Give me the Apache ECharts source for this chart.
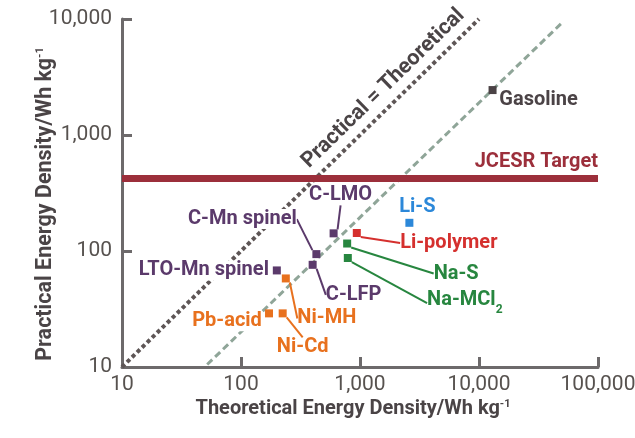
<!DOCTYPE html>
<html>
<head>
<meta charset="utf-8">
<script src="https://cdn.jsdelivr.net/npm/echarts@6/dist/echarts.min.js"></script>
<style>
  html, body { margin: 0; padding: 0; background: #fff; }
  #chart { width: 635px; height: 438px; }
</style>
</head>
<body>
<div id="chart"></div>
<script>
// values (Wh/kg)
const materials = ['Gasoline', 'C-LMO', 'Li-polymer', 'Li-S', 'Na-S', 'Na-MCl2', 'C-Mn spinel', 'C-LFP', 'LTO-Mn spinel', 'Ni-MH', 'Pb-acid', 'Ni-Cd']
const theoretical = [13000, 600, 940, 2600, 780, 790, 430, 400, 200, 238, 172, 224]
const practical = [2440, 142, 143, 175, 116, 87, 94, 76, 68, 58, 29, 29]
const family = ['Fuel', 'Li-ion', 'Li-polymer', 'Li-S', 'Sodium', 'Sodium', 'Li-ion', 'Li-ion', 'Li-ion', 'Aqueous', 'Aqueous', 'Aqueous']

const jcesrTarget = 425
// Practical = Theoretical guide, and the lower grey-green guide
const parityLine = [[10, 10], [10000, 10000]]
const lowerLine = [[52, 10.5], [50000, 9300]]

const FONT = "Roboto, 'Liberation Sans', sans-serif"

const familyColors = {
  Fuel: '#4b4346',
  'Li-ion': '#5b3a6b',
  'Li-polymer': '#d5302e',
  'Li-S': '#2c88d9',
  Sodium: '#27863f',
  Aqueous: '#e8711e',
}

// label centre relative to the marker (px)
const labelOffsets = {
  Gasoline: [46, 10],
  'C-LMO': [7, -38],
  'Li-polymer': [92, 10],
  'Li-S': [8, -16],
  'Na-S': [109, 30],
  'Na-MCl2': [117, 42],
  'C-Mn spinel': [-74, -35],
  'C-LFP': [41, 30],
  'LTO-Mn spinel': [-73, 0],
  'Ni-MH': [41, 40],
  'Pb-acid': [-42, 8],
  'Ni-Cd': [20, 34],
}
const withLeader = ['C-LMO', 'Li-polymer', 'Na-S', 'Na-MCl2', 'C-Mn spinel', 'C-LFP', 'Ni-MH', 'Ni-Cd']
const knockout = ['C-Mn spinel', 'LTO-Mn spinel', 'Pb-acid']

const chart = echarts.init(document.getElementById('chart'))

const points = materials.map((name, i) => {
  const color = familyColors[family[i]]
  return {
    name: name,
    value: [theoretical[i], practical[i]],
    itemStyle: { color: color, opacity: 1 },
    label: {
      color: color,
      backgroundColor: knockout.includes(name) ? '#fff' : 'transparent',
    },
    labelLine: {
      show: withLeader.includes(name),
      lineStyle: { color: color, width: 2, opacity: 1 },
    },
  }
})

const fmt = (v) => Math.round(v).toLocaleString('en-US')

const titleStyle = (size) => ({
  color: '#4a4446',
  fontSize: size,
  fontWeight: 'bold',
  fontFamily: FONT,
  rich: {
    sup: { fontSize: 11, fontWeight: 'bold', verticalAlign: 'top', color: '#4a4446', fontFamily: FONT },
  },
})

const option = {
  animation: false,
  backgroundColor: '#fff',
  textStyle: { fontFamily: FONT },
  grid: {
    left: 122,
    right: 37,
    top: 19,
    bottom: 71,
    outerBoundsMode: 'none',
  },
  xAxis: {
    type: 'log',
    logBase: 10,
    min: 10,
    max: 100000,
    name: 'Theoretical Energy Density/Wh kg{sup|-1}',
    nameLocation: 'middle',
    nameGap: 32,
    nameMoveOverlap: false,
    nameTextStyle: Object.assign(titleStyle(20), { padding: [0, 14, 0, 0] }),
    axisLine: { lineStyle: { color: '#6d6a6b', width: 3 } },
    axisTick: { inside: true, length: 10, lineStyle: { color: '#6d6a6b', width: 3 } },
    axisLabel: { color: '#57524f', fontSize: 21, fontFamily: FONT, margin: 7, formatter: fmt },
    splitLine: { show: false },
  },
  yAxis: {
    type: 'log',
    logBase: 10,
    min: 10,
    max: 10000,
    name: 'Practical Energy Density/Wh kg{sup|-1}',
    nameLocation: 'middle',
    nameRotate: 90,
    nameGap: 65,
    nameMoveOverlap: false,
    nameTextStyle: Object.assign(titleStyle(21.5), { padding: [0, 22, 0, 0] }),
    axisLine: { lineStyle: { color: '#6d6a6b', width: 3 } },
    axisTick: { inside: true, length: 10, lineStyle: { color: '#6d6a6b', width: 3 } },
    axisLabel: { color: '#57524f', fontSize: 21, fontFamily: FONT, margin: 10, formatter: fmt },
    splitLine: { show: false },
  },
  series: [
    {
      name: 'Lower guide',
      type: 'line',
      data: [],
      markLine: {
        silent: true,
        symbol: 'none',
        lineStyle: { color: '#8fa598', width: 3, type: [7, 4] },
        label: { show: false },
        data: [[{ coord: lowerLine[0] }, { coord: lowerLine[1] }]],
      },
    },
    {
      name: 'Practical = Theoretical',
      type: 'line',
      data: [],
      markLine: {
        silent: true,
        symbol: 'none',
        lineStyle: { color: '#5e5656', width: 4, type: [4, 3] },
        label: {
          show: true,
          formatter: 'Practical = Theoretical',
          position: 'insideEndTop',
          distance: [8, 6],
          color: '#4a4446',
          fontSize: 21.5,
          fontWeight: 'bold',
          fontFamily: FONT,
        },
        data: [[{ coord: parityLine[0] }, { coord: parityLine[1] }]],
      },
    },
    {
      name: 'JCESR Target',
      type: 'line',
      data: [],
      markLine: {
        silent: true,
        symbol: 'none',
        lineStyle: { color: '#9c2f3b', width: 7, type: 'solid' },
        label: {
          show: true,
          formatter: 'JCESR Target',
          position: 'insideEndTop',
          distance: [0, 6],
          color: '#9c2f3b',
          fontSize: 20,
          fontWeight: 'bold',
          fontFamily: FONT,
        },
        data: [{ yAxis: jcesrTarget }],
      },
    },
    {
      name: 'Materials',
      type: 'scatter',
      symbol: 'rect',
      symbolSize: 8,
      z: 5,
      data: points,
      label: {
        show: true,
        position: 'inside',
        fontSize: 20,
        fontWeight: 'bold',
        fontFamily: FONT,
        formatter: (p) => (p.name === 'Na-MCl2' ? 'Na-MCl{sub|2}' : p.name),
        rich: {
          sub: { fontSize: 12, fontWeight: 'bold', verticalAlign: 'bottom', fontFamily: FONT, padding: [0, 0, -6, 0] },
        },
      },
      labelLayout: (params) => {
        const o = labelOffsets[materials[params.dataIndex]]
        return { dx: o[0], dy: o[1] }
      },
    },
  ],
}

chart.setOption(option)
</script>
</body>
</html>
